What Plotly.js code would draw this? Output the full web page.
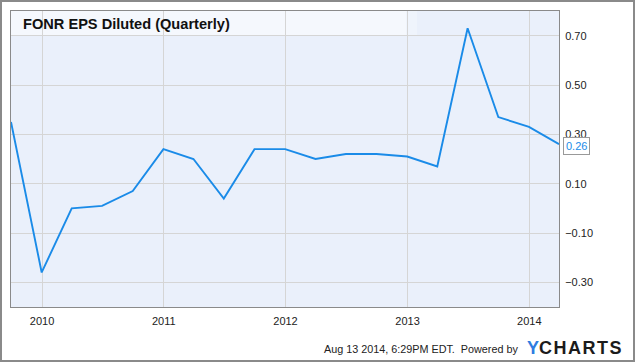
<!DOCTYPE html>
<html>
<head>
<meta charset="utf-8">
<script src="https://cdn.plot.ly/plotly-3.0.1.min.js"></script>
<style>
html,body{margin:0;padding:0;background:#fff;}
#chart{width:635px;height:362px;}
</style>
</head>
<body>
<div id="chart"></div>
<script>
// Quarter-end dates
const dates = [
  '2009-09-30','2009-12-31',
  '2010-03-31','2010-06-30','2010-09-30','2010-12-31',
  '2011-03-31','2011-06-30','2011-09-30','2011-12-31',
  '2012-03-31','2012-06-30','2012-09-30','2012-12-31',
  '2013-03-31','2013-06-30','2013-09-30','2013-12-31',
  '2014-03-31'
];
// EPS diluted values
const eps = [
  0.35, -0.26,
  0.00, 0.01, 0.07, 0.24,
  0.20, 0.04, 0.24, 0.24,
  0.20, 0.22, 0.22, 0.21,
  0.17, 0.73, 0.37, 0.33,
  0.26
];
const titleText = 'FONR EPS Diluted (Quarterly)';
const lastLabel = '0.26';
const footerText = 'Aug 13 2014, 6:29PM EDT.&nbsp; Powered by';

const W = 635, H = 362;
const mL = 11, mR = 76, mT = 11, mB = 55;
const pw = W - mL - mR, ph = H - mT - mB;
const px = p => (p - mL) / pw;          // pixel x -> paper x
const py = p => (H - mB - p) / ph;      // pixel y -> paper y

const fontFam = '"Liberation Sans", Arial, sans-serif';

const trace = {
  x: dates,
  y: eps,
  type: 'scatter',
  mode: 'lines',
  line: {color: '#1a8be8', width: 1.9},
  hoverinfo: 'skip'
};

const layout = {
  width: W, height: H,
  margin: {l: mL, r: mR, t: mT, b: mB, pad: 0},
  paper_bgcolor: '#ffffff',
  plot_bgcolor: '#eaf0fb',
  showlegend: false,
  font: {family: fontFam, size: 11, color: '#333'},
  xaxis: {
    type: 'date',
    range: [dates[0], dates[dates.length - 1]],
    tick0: '2010-01-01',
    dtick: 'M12',
    tickformat: '%Y',
    showgrid: true,
    gridcolor: '#d5d5d5',
    gridwidth: 1,
    showline: true,
    linecolor: '#8a8a8a',
    linewidth: 1,
    mirror: true,
    ticks: '',
    zeroline: false,
    tickfont: {family: fontFam, size: 11, color: '#222'},
    ticklabelstandoff: 4,
    fixedrange: true
  },
  yaxis: {
    side: 'right',
    range: [-0.40, 0.80],
    tick0: -0.30,
    dtick: 0.20,
    tickformat: '.2f',
    showgrid: true,
    gridcolor: '#d5d5d5',
    gridwidth: 1,
    showline: true,
    linecolor: '#8a8a8a',
    linewidth: 1,
    mirror: true,
    ticks: '',
    zeroline: false,
    tickfont: {family: fontFam, size: 11, color: '#222'},
    ticklabelstandoff: 3,
    fixedrange: true
  },
  shapes: [
    // title band
    {type: 'rect', xref: 'paper', yref: 'paper', layer: 'below',
     x0: 0, x1: px(406), y0: py(35), y1: 1,
     fillcolor: 'rgba(255,255,255,0.5)', line: {width: 0}},
    {type: 'rect', xref: 'paper', yref: 'paper', layer: 'below',
     x0: px(406), x1: px(417), y0: py(35), y1: 1,
     fillcolor: 'rgba(255,255,255,0.25)', line: {width: 0}},
    // outer frame
    {type: 'rect', xref: 'paper', yref: 'paper', layer: 'above',
     x0: px(1), x1: px(634), y0: py(361), y1: py(1),
     fillcolor: 'rgba(0,0,0,0)', line: {color: '#8a8a8a', width: 2}}
  ],
  annotations: [
    {text: '<b>' + titleText + '</b>', xref: 'paper', yref: 'paper',
     x: px(21), y: py(24), xanchor: 'left', yanchor: 'middle', showarrow: false,
     font: {family: fontFam, size: 14.6, color: '#111'}},
    {text: lastLabel, xref: 'paper', yref: 'y',
     x: px(563), y: eps[eps.length - 1], xanchor: 'left', yanchor: 'middle',
     yshift: -2, showarrow: false,
     bgcolor: '#ffffff', bordercolor: '#999999', borderwidth: 1, borderpad: 2,
     font: {family: fontFam, size: 11, color: '#1a8be8'}},
    {text: footerText, xref: 'paper', yref: 'paper',
     x: px(520), y: py(349), xanchor: 'right', yanchor: 'middle', showarrow: false,
     font: {family: fontFam, size: 10.8, color: '#222'}},
    {text: '<b><span style="color:#2f7de1">Y</span>C\u200AH\u200AA\u200AR\u200AT\u200AS</b>',
     xref: 'paper', yref: 'paper',
     x: px(525), y: py(348), xanchor: 'left', yanchor: 'middle', showarrow: false,
     font: {family: fontFam, size: 18, color: '#1b1b1b'}}
  ]
};

Plotly.newPlot('chart', [trace], layout, {displayModeBar: false, staticPlot: true});
</script>
</body>
</html>
